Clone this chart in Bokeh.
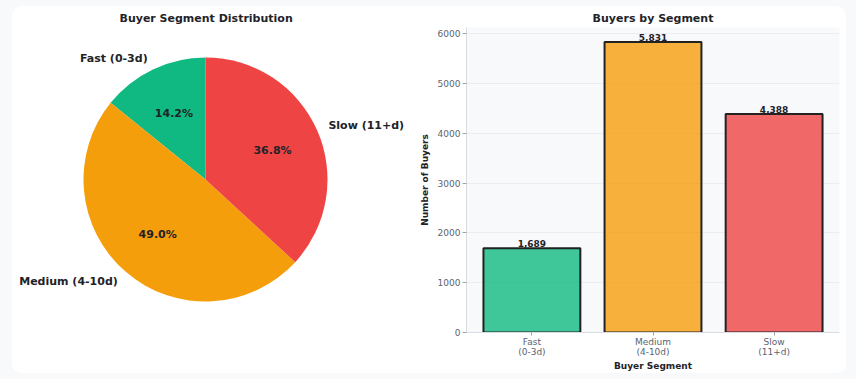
import math
from bokeh.plotting import figure
from bokeh.layouts import row, column
from bokeh.models import Range1d, FixedTicker, ColumnDataSource
from bokeh.core.properties import value
from bokeh.embed import file_html
from bokeh.resources import INLINE

# ---- data ----
segments = ["Fast (0-3d)", "Medium (4-10d)", "Slow (11+d)"]
bar_tick_labels = ["Fast\n(0-3d)", "Medium\n(4-10d)", "Slow\n(11+d)"]
buyers = [1689, 5831, 4388]
colors = ["#10b981", "#f59e0b", "#ef4444"]
y_ticks = [0, 1000, 2000, 3000, 4000, 5000, 6000]

FONT = value("DejaVu Sans")
DARK = "#1f2328"

H = 367
TOP, BOTTOM = 21, 41

# ---- pie ----
W1 = 396
frame_h = H - TOP - BOTTOM
cx, cy, R = 193, 152, 122  # pixel centre (in frame) / radius
p1 = figure(width=W1, height=H, output_backend="svg", toolbar_location=None,
            x_axis_type=None, y_axis_type=None,
            min_border_left=0, min_border_right=0,
            min_border_top=TOP, min_border_bottom=BOTTOM,
            x_range=Range1d(-cx / R, (W1 - cx) / R),
            y_range=Range1d(-(frame_h - cy) / R, cy / R),
            title="Buyer Segment Distribution")
p1.outline_line_color = None
p1.grid.visible = False
p1.border_fill_color = "white"
p1.background_fill_color = "white"
p1.title.align = "left"
p1.title.offset = 107
p1.title.text_font = "DejaVu Sans"
p1.title.text_font_size = "11px"
p1.title.text_font_style = "bold"
p1.title.text_color = DARK
p1.title.standoff = 5

total = float(sum(buyers))
starts, ends, mids = [], [], []
a = math.pi / 2
for v in buyers:
    span = 2 * math.pi * v / total
    starts.append(a)
    ends.append(a + span)
    mids.append(a + span / 2)
    a += span

src = ColumnDataSource(dict(start=starts, end=ends, color=colors))
p1.wedge(x=0, y=0, radius=1, start_angle="start", end_angle="end",
         fill_color="color", line_color=None, direction="anticlock", source=src)

pct = [f"{100 * v / total:.1f}%" for v in buyers]
p1.text(x=[0.6 * math.cos(m) for m in mids], y=[0.6 * math.sin(m) for m in mids],
        text=pct, text_align="center", text_baseline="middle",
        text_font=FONT, text_font_size="11px", text_font_style="bold", text_color=DARK)

lx = [1.1 * math.cos(m) for m in mids]
ly = [1.1 * math.sin(m) for m in mids]
align = ["left" if x > 0 else "right" for x in lx]
p1.text(x=lx, y=ly, text=segments, text_align=align, text_baseline="middle",
        text_font=FONT, text_font_size="11px", text_font_style="bold", text_color=DARK)

# ---- bars ----
W2 = 438
xs = list(range(len(buyers)))
p2 = figure(width=W2, height=H, output_backend="svg", toolbar_location=None,
            x_range=Range1d(-0.54, len(buyers) - 1 + 0.54),
            y_range=Range1d(0, max(buyers) * 1.05),
            min_border_left=58, min_border_right=7,
            min_border_top=TOP, min_border_bottom=BOTTOM,
            title="Buyers by Segment")
p2.title.align = "center"
p2.title.text_font = "DejaVu Sans"
p2.title.text_font_size = "11px"
p2.title.text_font_style = "bold"
p2.title.text_color = DARK
p2.title.standoff = 5
p2.outline_line_color = None
p2.border_fill_color = "white"
p2.background_fill_color = "#f8f9fb"

bsrc = ColumnDataSource(dict(x=xs, top=buyers, color=colors,
                             lab=[f"{v:,}" for v in buyers]))
p2.vbar(x="x", top="top", width=0.8, bottom=0, fill_color="color", fill_alpha=0.8,
        line_color="#222222", line_width=2, source=bsrc)
p2.text(x="x", y="top", text="lab", text_align="center", text_baseline="bottom",
        y_offset=-1, text_font=FONT, text_font_size="9px", text_font_style="bold",
        text_color=DARK, source=bsrc)

p2.xgrid.visible = False
p2.ygrid.grid_line_color = "#e6e8ec"
p2.ygrid.grid_line_alpha = 0.7
p2.ygrid.ticker = FixedTicker(ticks=y_ticks)

p2.yaxis.ticker = FixedTicker(ticks=y_ticks)
p2.xaxis.ticker = FixedTicker(ticks=xs)
p2.xaxis.major_label_overrides = {i: t for i, t in zip(xs, bar_tick_labels)}
for ax in (p2.xaxis[0], p2.yaxis[0]):
    ax.axis_line_color = "#d8dce2"
    ax.major_tick_line_color = "#9aa1ab"
    ax.major_tick_in = 0
    ax.major_tick_out = 4
    ax.minor_tick_line_color = None
    ax.major_label_text_font = "DejaVu Sans"
    ax.major_label_text_font_size = "9px"
    ax.major_label_text_color = "#5b6370"
    ax.major_label_standoff = 2
    ax.axis_label_text_font = "DejaVu Sans"
    ax.axis_label_text_font_size = "9px"
    ax.axis_label_text_font_style = "bold"
    ax.axis_label_text_color = DARK
p2.xaxis.major_tick_out = 3
p2.xaxis.major_label_text_line_height = 1.0
p2.xaxis.major_label_standoff = 1
p2.xaxis.axis_label = "Buyer Segment"
p2.yaxis.axis_label = "Number of Buyers"
p2.yaxis.axis_label_standoff = 5
p2.xaxis.axis_label_standoff = 1

card = row(p1, p2, styles={"border-radius": "10px", "overflow": "hidden",
                           "background-color": "white"})
layout = column(card, styles={"background-color": "#f8f9fb",
                              "padding": "6px 10px 6px 12px"})
open("out.html", "w").write(file_html(layout, INLINE))
